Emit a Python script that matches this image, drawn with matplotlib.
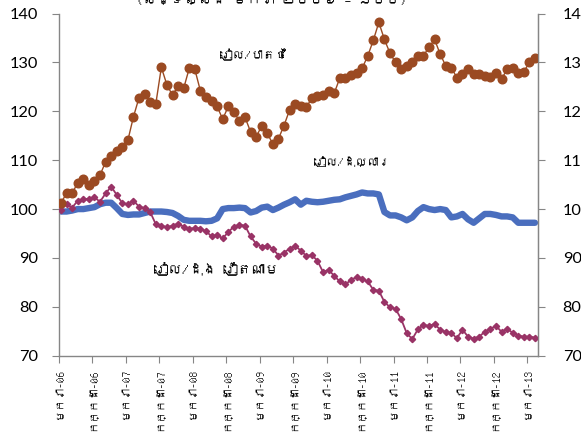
import numpy as np
import matplotlib
matplotlib.use("Agg")
import matplotlib.pyplot as plt
from matplotlib import font_manager as fm
from matplotlib.ft2font import FT2Font

# ---- data (monthly, Jan-2006 .. Feb-2013) ----
riel_baht = [101.3, 103.2, 103.2, 105.4, 106.1, 104.9, 105.8, 106.9, 109.7, 110.9,
             111.9, 112.8, 114.1, 118.9, 122.8, 123.6, 122.0, 121.5, 129.0, 125.4,
             123.3, 125.2, 124.7, 128.8, 128.6, 124.2, 123.0, 122.2, 121.0, 118.4,
             121.0, 119.9, 118.0, 118.8, 115.8, 114.8, 117.0, 115.5, 113.3, 114.4,
             117.1, 120.3, 121.5, 121.0, 120.8, 122.8, 123.1, 123.3, 124.2, 123.7,
             126.8, 126.9, 127.4, 127.9, 128.8, 131.3, 134.5, 138.2, 134.7, 131.9,
             130.0, 128.7, 129.3, 130.0, 131.3, 131.4, 133.1, 134.7, 131.7, 129.3,
             128.9, 126.9, 127.6, 128.6, 127.6, 127.6, 127.3, 127.1, 127.8, 126.6,
             128.6, 128.9, 127.9, 128.1, 130.0, 131.0]

riel_usd = [99.5, 99.5, 99.7, 100.0, 100.0, 100.2, 100.4, 101.0, 101.3, 101.3,
            100.2, 99.0, 98.8, 98.9, 98.9, 99.2, 99.5, 99.5, 99.5, 99.4,
            99.2, 98.6, 97.8, 97.6, 97.6, 97.6, 97.5, 97.6, 98.1, 100.0,
            100.2, 100.2, 100.3, 100.2, 99.3, 99.6, 100.3, 100.5, 99.8, 100.3,
            100.9, 101.4, 102.0, 100.9, 101.7, 101.5, 101.4, 101.5, 101.7, 101.9,
            102.0, 102.4, 102.7, 103.0, 103.4, 103.2, 103.2, 103.0, 99.4, 98.7,
            98.7, 98.3, 97.7, 98.3, 99.6, 100.4, 100.0, 99.8, 100.0, 99.8,
            98.3, 98.5, 99.0, 97.9, 97.2, 98.1, 99.0, 99.0, 98.8, 98.5,
            98.5, 98.3, 97.2, 97.2, 97.2, 97.2]

riel_dong = [99.9, 101.0, 100.3, 101.7, 102.0, 102.1, 102.4, 101.5, 103.2, 104.6,
             102.9, 101.2, 101.0, 101.7, 100.5, 100.2, 99.4, 96.9, 96.6, 96.3,
             96.6, 97.0, 96.4, 96.0, 96.1, 96.0, 95.5, 94.4, 94.7, 94.0,
             95.3, 96.4, 96.8, 96.6, 94.4, 92.9, 92.3, 92.5, 91.9, 90.5,
             91.1, 91.9, 92.5, 91.5, 90.4, 90.6, 89.4, 87.1, 87.6, 86.3,
             85.2, 84.6, 85.5, 86.1, 85.6, 85.2, 83.5, 83.3, 81.0, 79.9,
             79.6, 77.5, 74.6, 73.4, 75.4, 76.3, 76.1, 76.5, 75.3, 74.9,
             74.6, 73.6, 75.3, 73.9, 73.5, 73.9, 74.9, 75.5, 76.1, 74.9,
             75.5, 74.7, 74.1, 73.9, 73.9, 73.7]

tick_labels = ["មករា-06", "កក្កដា-06", "មករា-07", "កក្កដា-07", "មករា-08",
               "កក្កដា-08", "មករា-09", "កក្កដា-09", "មករា-10", "កក្កដា-10",
               "មករា-11", "កក្កដា-11", "មករា-12", "កក្កដា-12", "មករា-13"]
y_ticks = [70, 80, 90, 100, 110, 120, 130, 140]

label_baht = "រៀល/បាតថៃ"
label_usd = "រៀល/ដុល្លារ"
label_dong = "រៀល/ដុង វៀតណាម"
title_text = "(សន្ទស្សន៍ មករា ២០០៦ = ១០០)"

# ---- find a font with Khmer glyphs, if any ----
khmer_family = None
for f in fm.fontManager.ttflist:
    try:
        if 0x1780 in FT2Font(f.fname).get_charmap():
            khmer_family = f.name
            break
    except Exception:
        pass
families = ([khmer_family] if khmer_family else []) + ["DejaVu Sans"]
plt.rcParams["font.family"] = families
num_font = ["Lato", "DejaVu Sans"]

BROWN = "#9B4A22"
BLUE = "#4A6EBE"
PURPLE = "#993366"
GRAY = "#868686"

fig = plt.figure(figsize=(5.81, 4.38), dpi=100)
ax = fig.add_axes([0.1015, 0.1879, 0.824, 0.7811])

n = len(riel_baht)
x = np.arange(n) + 0.36

ax.plot(x, riel_usd, color=BLUE, lw=4.6, solid_capstyle="round", zorder=2)
ax.plot(x, riel_dong, color=PURPLE, lw=1.3, marker="D", ms=3.2,
        mec=PURPLE, mfc=PURPLE, zorder=3)
ax.plot(x, riel_baht, color=BROWN, lw=1.0, marker="o", ms=6.2,
        mec=BROWN, mfc=BROWN, zorder=4)

ax.set_xlim(0, 85.85)
ax.set_ylim(70, 140)
ax.set_yticks(y_ticks)
ax.set_yticklabels([str(v) for v in y_ticks], family=num_font, fontsize=11.8)
ax.set_xticks(np.arange(0, 85, 6))
ax.set_xticklabels(tick_labels, rotation=90, fontsize=8.2)

ax.spines["top"].set_visible(False)
for s in ["left", "right", "bottom"]:
    ax.spines[s].set_color(GRAY)
    ax.spines[s].set_linewidth(1.0)

ax.tick_params(axis="x", direction="out", length=5, color=GRAY, pad=4)
ax.tick_params(axis="y", direction="out", length=5, color=GRAY, pad=10)

ax2 = ax.twinx()
ax2.set_ylim(70, 140)
ax2.set_yticks(y_ticks)
ax2.set_yticklabels([str(v) for v in y_ticks], family=num_font, fontsize=11.8)
for s in ["top", "left", "bottom"]:
    ax2.spines[s].set_visible(False)
ax2.spines["right"].set_color(GRAY)
ax2.tick_params(axis="y", direction="out", length=5, color=GRAY, pad=13)

ax.text(35.0, 131.5, label_baht, fontsize=8.8, ha="center", va="center", zorder=5)
ax.text(52.5, 109.8, label_usd, fontsize=8.5, ha="center", va="center", zorder=5)
ax.text(28.3, 87.8, label_dong, fontsize=10, ha="center", va="center", zorder=5)

fig.text(0.467, 1 - 4 / 438, title_text, fontsize=10, ha="center", va="baseline")

fig.savefig("out.png", dpi=100)
